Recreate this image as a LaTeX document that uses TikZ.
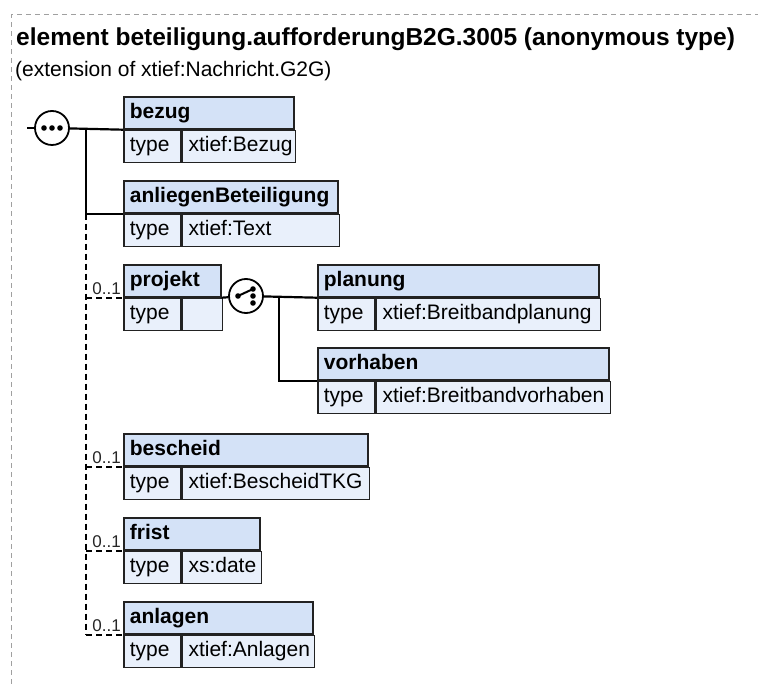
\documentclass[tikz,border=0pt]{standalone}
\usepackage{fontspec}
\setmainfont{Liberation Sans}
\usetikzlibrary{positioning}
\hyphenpenalty=10000

\definecolor{hdrblue}{RGB}{212,226,247}
\definecolor{rowblue}{RGB}{233,240,251}
\definecolor{boxline}{RGB}{34,34,34}
\definecolor{framegray}{RGB}{160,160,160}

\tikzset{
  boxfont/.style={font=\fontsize{21}{25}\selectfont},
  cell/.style={draw=boxline, line width=1.7pt, minimum height=32pt, inner xsep=6pt, inner ysep=0pt,
    text height=15pt, text depth=4.5pt, align=left},
  hdr/.style={cell, fill=hdrblue, anchor=north west, font=\fontsize{21}{25}\selectfont\bfseries},
  tcell/.style={cell, boxfont, fill=rowblue, text width=45pt},
  vcell/.style={cell, boxfont, fill=rowblue},
  conn/.style={line width=2.2pt, black},
  optconn/.style={conn, dash pattern=on 6pt off 4pt},
  compositor/.style={circle, draw=black, line width=1.8pt, fill=white, minimum size=34pt, inner sep=0pt},
  mult/.style={font=\fontsize{17}{20}\selectfont, text=black!85, inner sep=0pt, anchor=base east},
  frame/.style={framegray, line width=1pt, dash pattern=on 5pt off 4pt}
}

\begin{document}
\begin{tikzpicture}[x=1pt, y=-1pt]
  \useasboundingbox (0,0) rectangle (758,684);
  \draw[frame] (11,684) -- (11,15) -- (758,15);

  % heading
  \node[anchor=base west, inner sep=0pt, font=\fontsize{24.5}{29}\selectfont\bfseries] (title) at (16,46)
    {element beteiligung.aufforderungB2G.3005 (anonymous type)};
  \node[anchor=base west, inner sep=0pt, font=\fontsize{21}{25}\selectfont] (subtitle) at (15,77)
    {(extension of xtief:Nachricht.G2G)};

  % sequence
  \node[compositor] (seq) at (52,128) {};
  \foreach \dx in {-8,0,8}
    \fill ([xshift=\dx pt]seq.center) circle (2.8pt);

  % elements
  \node[hdr, text width=158pt] (bezug) at (123,96) {bezug};
  \node[tcell, below right=0pt of bezug.south west] (bezugT) {type};
  \node[vcell, text width=101pt, right=0pt of bezugT] (bezugV) {xtief:Bezug};

  \node[hdr, text width=202pt] (anliegen) at (123,180) {anliegenBeteiligung};
  \node[tcell, below right=0pt of anliegen.south west] (anliegenT) {type};
  \node[vcell, text width=145pt, right=0pt of anliegenT] (anliegenV) {xtief:Text};

  \node[hdr, text width=85pt] (projekt) at (123,264) {projekt};
  \node[tcell, below right=0pt of projekt.south west] (projektT) {type};
  \node[vcell, text width=28pt, right=0pt of projektT] (projektV) {};

  \node[hdr, text width=269pt] (planung) at (317,264) {planung};
  \node[tcell, below right=0pt of planung.south west] (planungT) {type};
  \node[vcell, text width=212pt, right=0pt of planungT] (planungV) {xtief:Breitbandplanung};

  \node[hdr, text width=279pt] (vorhaben) at (317,347) {vorhaben};
  \node[tcell, below right=0pt of vorhaben.south west] (vorhabenT) {type};
  \node[vcell, text width=222pt, right=0pt of vorhabenT] (vorhabenV) {xtief:Breitbandvorhaben};

  \node[hdr, text width=232pt] (bescheid) at (123,433) {bescheid};
  \node[tcell, below right=0pt of bescheid.south west] (bescheidT) {type};
  \node[vcell, text width=175pt, right=0pt of bescheidT] (bescheidV) {xtief:BescheidTKG};

  \node[hdr, text width=124pt] (frist) at (123,517) {frist};
  \node[tcell, below right=0pt of frist.south west] (fristT) {type};
  \node[vcell, text width=67pt, right=0pt of fristT] (fristV) {xs:date};

  \node[hdr, text width=177pt] (anlagen) at (123,601) {anlagen};
  \node[tcell, below right=0pt of anlagen.south west] (anlagenT) {type};
  \node[vcell, text width=120pt, right=0pt of anlagenT] (anlagenV) {xtief:Anlagen};

  % connectors of the sequence
  \coordinate (in) at (27,128);
  \coordinate (trunk) at (86,128);
  \draw[conn] (in) -- (seq);
  \draw[conn] (seq) -- (bezug.south west);
  \draw[conn] (trunk) |- (anliegen.south west);
  \draw[optconn] (trunk |- anliegen.south west) -- (trunk |- anlagen.south west);
  \foreach \el in {projekt,bescheid,frist,anlagen}{
    \draw[optconn] (trunk |- \el.south west) -- (\el.south west);
    \node[mult] (\el-mult) at ([shift={(-2,-3)}]\el.south west) {0..1};
  }

  % choice
  \node[compositor] (choice) at (246,296) {};
  \fill (238,296) circle (2.8pt) (253,289) circle (2.8pt) (253,296) circle (2.8pt) (253,303) circle (2.8pt);
  \draw[line width=2pt] (238,296) -- (253,289);
  \coordinate (ctrunk) at (279,296);
  \draw[conn] (projekt.south east) -- (choice);
  \draw[conn] (choice) -- (planung.south west);
  \draw[conn] (ctrunk) |- (vorhaben.south west);
\end{tikzpicture}
\end{document}
